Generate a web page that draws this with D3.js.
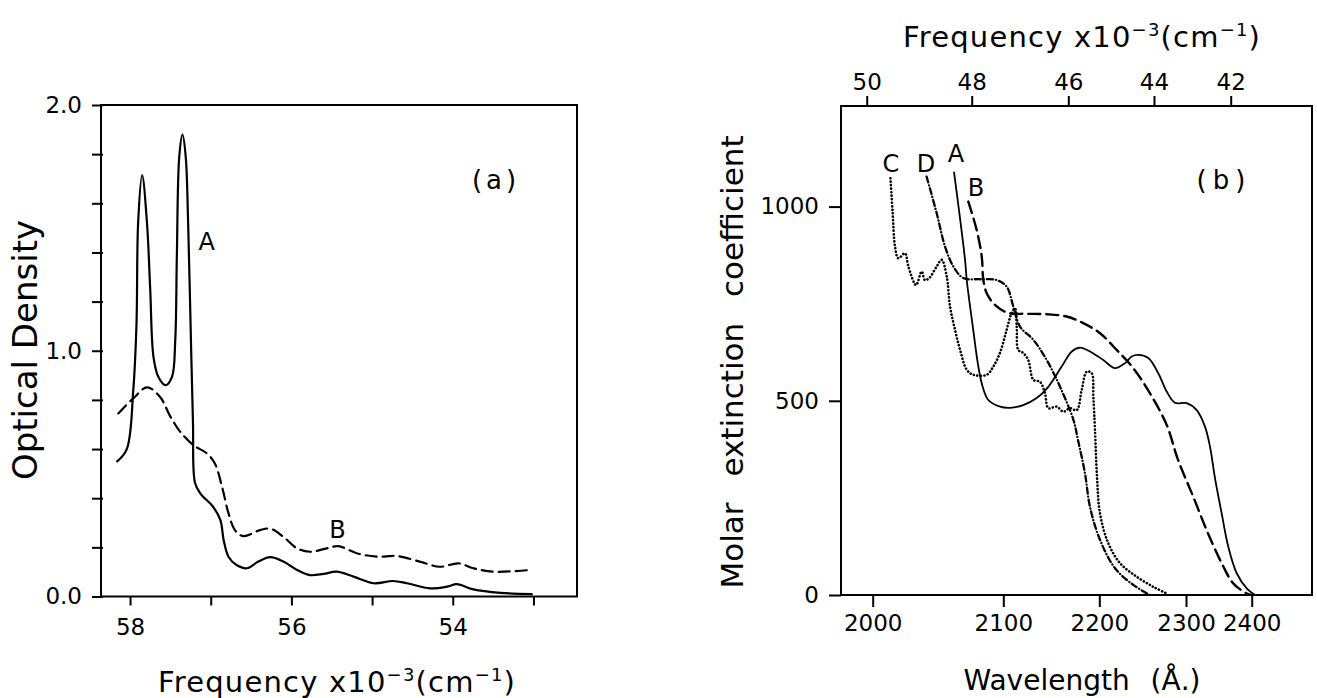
<!DOCTYPE html>
<html>
<head>
<meta charset="utf-8">
<script src="https://cdn.jsdelivr.net/npm/d3@7"></script>
<style>
body { margin: 0; background: #fff; }
svg { display: block; font-family: 'DejaVu Sans', sans-serif; }
.axis path { display: none; }
.axis line { stroke: #000; stroke-width: 2; }
</style>
</head>
<body>
<div id="graph"></div>
<script>
// panel (a): frequency x10^-3 cm-1 vs optical density
var aFreqA = [58.16, 58.04, 57.96, 57.92, 57.90, 57.85, 57.79, 57.75, 57.71, 57.65, 57.56, 57.48, 57.44, 57.42, 57.39, 57.35, 57.31, 57.28, 57.25, 57.22, 57.195, 57.13, 56.97, 56.88, 56.84, 56.78, 56.68, 56.55, 56.41, 56.26, 56.10, 55.93, 55.77, 55.60, 55.44, 55.23, 54.98, 54.74, 54.57, 54.28, 54.07, 53.95, 53.745, 53.41, 53.02]
var aOdA   = [0.55, 0.60, 0.84, 1.11, 1.52, 1.715, 1.52, 1.25, 0.976, 0.894, 0.86, 0.894, 1.04, 1.38, 1.79, 1.88, 1.79, 1.52, 1.11, 0.706, 0.463, 0.42, 0.365, 0.311, 0.23, 0.162, 0.128, 0.115, 0.142, 0.16, 0.142, 0.108, 0.087, 0.092, 0.101, 0.081, 0.054, 0.063, 0.054, 0.033, 0.04, 0.05, 0.029, 0.015, 0.01]
var aFreqB = [58.145, 57.96, 57.79, 57.63, 57.50, 57.38, 57.215, 57.05, 56.95, 56.86, 56.78, 56.70, 56.60, 56.39, 56.26, 56.10, 55.93, 55.77, 55.56, 55.42, 55.19, 54.94, 54.70, 54.41, 54.16, 53.93, 53.745, 53.50, 53.04]
var aOdB   = [0.745, 0.806, 0.851, 0.813, 0.732, 0.671, 0.616, 0.583, 0.542, 0.447, 0.339, 0.27, 0.246, 0.27, 0.276, 0.243, 0.196, 0.182, 0.196, 0.205, 0.176, 0.162, 0.165, 0.142, 0.121, 0.135, 0.115, 0.101, 0.108]
var aFreqTicks = [58, 57, 56, 55, 54, 53]
var aOdTicks = [0, 0.2, 0.4, 0.6, 0.8, 1, 1.2, 1.4, 1.6, 1.8, 2]
var aLabels = [{t: 'A', f: 57.05, v: 1.41}, {t: 'B', f: 55.43, v: 0.238}]

// panel (b): wavelength (A) vs molar extinction coefficient
var bWaveA = [2062.3, 2070.7, 2072, 2077, 2080.9, 2084.2, 2088.5, 2097.5, 2107, 2120.8, 2134.8, 2146.9, 2160.8, 2171.3, 2179.9, 2190.3, 2204.6, 2218.1, 2229.6, 2237.4, 2245, 2256.5, 2268, 2277.7, 2287.3, 2301, 2316.3, 2329, 2336.5, 2344.1, 2354.3, 2364.4, 2377.2, 2392.4, 2405]
var bEpsA  = [1088, 863, 811, 682, 588, 536, 502, 485, 482, 489, 507, 536, 588, 627, 637, 627, 605, 584, 597, 614, 618, 610, 571, 524, 495, 494, 476, 433, 382, 301, 210, 124, 56, 17, 0]
var bWaveB = [2073.2, 2079.6, 2083.5, 2084.7, 2087.3, 2093.6, 2105.2, 2124.4, 2145.2, 2166, 2183.3, 2200.8, 2220, 2239.2, 2258.5, 2277.7, 2290.8, 2311, 2331.4, 2354.3, 2371.9, 2392.4, 2400]
var bEpsB  = [1013, 940, 871, 811, 777, 747, 726, 724, 723, 717, 700, 674, 631, 584, 519, 438, 348, 253, 167, 82, 30, 4, 0]
var bWaveC = [2013.6, 2015.3, 2017.1, 2019.6, 2024.7, 2027.3, 2033.2, 2037.5, 2040, 2043.3, 2049, 2052.8, 2056.7, 2059.2, 2063, 2066.9, 2072, 2077, 2087.3, 2092.3, 2097.4, 2103.5, 2108.7, 2112.2, 2114, 2115.6, 2120.8, 2126, 2131.3, 2138.2, 2143.4, 2146.9, 2155.6, 2162.5, 2169.5, 2176.5, 2181.7, 2186.9, 2192.1, 2193.8, 2195.5, 2197.6, 2200.8, 2210.4, 2223.9, 2243.1, 2262.3, 2277.7]
var bEpsC  = [1073, 983, 897, 867, 880, 846, 798, 833, 811, 816, 846, 863, 820, 743, 683, 631, 580, 567, 567, 588, 623, 683, 726, 738, 691, 631, 623, 605, 554, 549, 519, 481, 485, 472, 481, 476, 528, 575, 571, 511, 425, 305, 210, 133, 82, 47, 21, 4]
var bWaveD = [2041.3, 2049, 2055.4, 2061.7, 2069.4, 2082.2, 2094.9, 2103.5, 2110.4, 2117.4, 2131.3, 2145.2, 2159.1, 2173, 2177.8, 2185.1, 2190.3, 2200.8, 2218.1, 2239.2, 2258.4]
var bEpsD  = [1077, 983, 897, 846, 816, 813, 811, 794, 743, 691, 657, 605, 536, 451, 399, 313, 227, 142, 69, 26, 0]
var bWaveTicks = [2000, 2100, 2200, 2300, 2400]
var bFreqTicks = [50, 48, 46, 44, 42]
var bEpsTicks = [0, 500, 1000]
var bLabels = [
  {t: 'C', w: 2014, v: 1090}, {t: 'D', w: 2040.8, v: 1090},
  {t: 'A', w: 2063.8, v: 1116}, {t: 'B', w: 2079.1, v: 1026}
]

var svg = d3.select('#graph').append('svg')
  .attr('width', 1317).attr('height', 698)

svg.append('rect').attr('width', 1317).attr('height', 698).attr('fill', '#fff')

function frame(b){
  svg.append('rect')
    .attr('x', b.left).attr('y', b.top)
    .attr('width', b.right - b.left).attr('height', b.bottom - b.top)
    .attr('fill', 'none').attr('stroke', '#000').attr('stroke-width', 2)
}

function axis(translate, ax){
  var g = svg.append('g').attr('class', 'axis')
    .attr('transform', translate)
    .call(ax)
  g.attr('font-family', null).attr('font-size', null)
  g.selectAll('.tick text')
    .attr('font-family', 'DejaVu Sans, sans-serif')
    .attr('font-size', 23).attr('fill', '#000')
  return g
}

function freqTitle(sel, x, y){
  var t = sel.append('text').attr('x', x).attr('y', y)
    .attr('text-anchor', 'middle').attr('font-size', 29).attr('fill', '#000')
    .attr('letter-spacing', 1.2)
  t.append('tspan').text('Frequency  x10')
  t.append('tspan').attr('dy', -11).attr('font-size', 18).text('−3')
  t.append('tspan').attr('dy', 11).text('(cm')
  t.append('tspan').attr('dy', -11).attr('font-size', 18).text('−1')
  t.append('tspan').attr('dy', 11).text(')')
  return t
}

function curve(g, xs, ys, x, y, dash, w){
  g.append('path')
    .datum(d3.zip(xs, ys))
    .attr('d', d3.line().x(d => x(d[0])).y(d => y(d[1])).curve(d3.curveCatmullRom.alpha(0.5)))
    .attr('fill', 'none').attr('stroke', '#000')
    .attr('stroke-width', w)
    .attr('stroke-linecap', 'round')
    .attr('stroke-dasharray', dash)
}

// ---- panel (a)
var a = {left: 101, right: 577, top: 105, bottom: 596.5}
var xA = d3.scaleLinear().domain([58.36, 52.46]).range([a.left, a.right])
var yA = d3.scaleLinear().domain([0, 2]).range([a.bottom, a.top])

frame(a)

axis(`translate(${a.left},0)`,
  d3.axisLeft(yA).tickValues(aOdTicks).tickSize(9).tickPadding(10)
    .tickFormat(d => d % 1 === 0 ? d3.format('.1f')(d) : ''))
  .selectAll('.tick line').attr('x1', 2)

axis(`translate(0,${a.bottom})`,
  d3.axisBottom(xA).tickValues(aFreqTicks).tickSize(9).tickPadding(13)
    .tickFormat(d => d % 2 === 0 ? d : ''))

var gA = svg.append('g')
curve(gA, aFreqA, aOdA, xA, yA, null, 2.2)
curve(gA, aFreqB, aOdB, xA, yA, '11,6', 2.2)

gA.selectAll('text.lab').data(aLabels).join('text')
  .attr('x', d => xA(d.f)).attr('y', d => yA(d.v))
  .attr('text-anchor', 'middle').attr('font-size', 24)
  .text(d => d.t)

svg.append('text').attr('x', 496).attr('y', 189)
  .attr('text-anchor', 'middle').attr('font-size', 26).attr('letter-spacing', 4)
  .text('(a)')

svg.append('text')
  .attr('transform', 'translate(37,350) rotate(-90)')
  .attr('text-anchor', 'middle').attr('font-size', 34)
  .text('Optical Density')

freqTitle(svg, 337, 692)

// ---- panel (b)
var b = {left: 841, right: 1312, top: 106, bottom: 595}
var bw = b.right - b.left
var xB = d3.scaleLinear().domain(bWaveTicks)
  .range([0.0673, 0.3446, 0.5484, 0.7325, 0.872].map(f => b.left + f*bw))
var xTop = d3.scaleLinear().domain(bFreqTicks)
  .range([0.0546, 0.2775, 0.4826, 0.6645, 0.8274].map(f => b.left + f*bw))
var yB = d3.scaleLinear().domain([0, 1259]).range([b.bottom, b.top])

frame(b)

axis(`translate(${b.left},0)`,
  d3.axisLeft(yB).tickValues(bEpsTicks).tickSize(12).tickPadding(10).tickFormat(d3.format('d')))

axis(`translate(0,${b.bottom})`,
  d3.axisBottom(xB).tickValues(bWaveTicks).tickSize(12).tickPadding(8).tickFormat(d3.format('d')))

axis(`translate(0,${b.top})`,
  d3.axisTop(xTop).tickValues(bFreqTicks).tickSize(10).tickPadding(6))

var gB = svg.append('g')
curve(gB, bWaveA, bEpsA, xB, yB, null, 1.8)
curve(gB, bWaveB, bEpsB, xB, yB, '12,6', 2.4)
curve(gB, bWaveC, bEpsC, xB, yB, '0.1,3.4', 2.6)
curve(gB, bWaveD, bEpsD, xB, yB, '6,3,0.1,3', 2.3)

gB.selectAll('text.lab').data(bLabels).join('text')
  .attr('x', d => xB(d.w)).attr('y', d => yB(d.v))
  .attr('text-anchor', 'middle').attr('font-size', 24)
  .text(d => d.t)

svg.append('text').attr('x', 1224).attr('y', 189)
  .attr('text-anchor', 'middle').attr('font-size', 26).attr('letter-spacing', 6)
  .text('(b)')

svg.append('text')
  .attr('transform', 'translate(743,362) rotate(-90)')
  .attr('text-anchor', 'middle').attr('font-size', 31).attr('word-spacing', 16)
  .text('Molar extinction coefficient')

svg.append('text').attr('x', 1082).attr('y', 690)
  .attr('text-anchor', 'middle').attr('font-size', 28).attr('word-spacing', 12)
  .text('Wavelength (Å.)')

freqTitle(svg, 1082, 47)
</script>
</body>
</html>
